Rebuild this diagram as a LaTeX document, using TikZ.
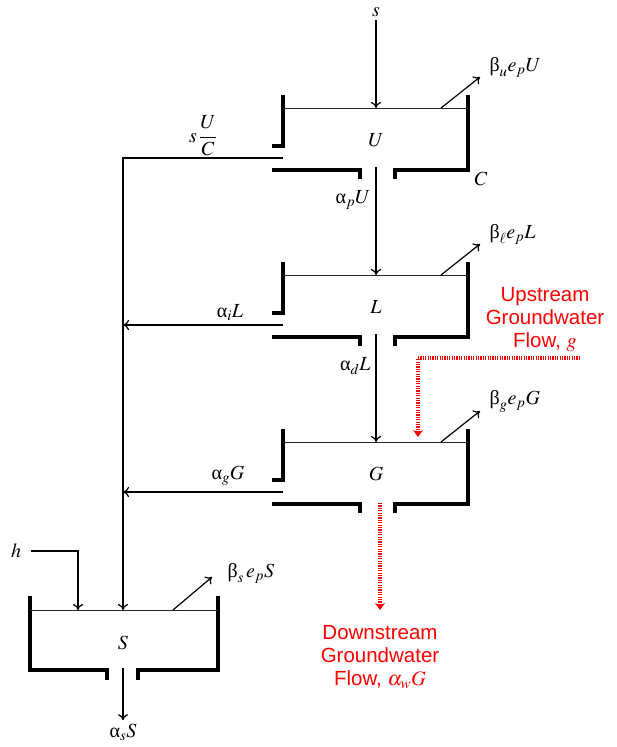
\documentclass[tikz,border=0pt]{standalone}
\usepackage{mathptmx}
\usepackage{fontspec}
\setmainfont{Liberation Serif}
\setsansfont{Liberation Sans}
\usetikzlibrary{arrows.meta}
\definecolor{gwred}{RGB}{255,0,0}
\newcommand{\ualpha}{\mbox{\rmfamily α}}
\newcommand{\ubeta}{\mbox{\rmfamily β}}

\begin{document}
\begin{tikzpicture}[
        x=1pt, y=-1pt,
        font=\fontsize{20}{23}\selectfont,
        wall/.style={line width=3.5pt},
        level/.style={line width=1pt, black!85},
        flow/.style={-{To[length=6pt, width=10pt]}, line width=1.2pt},
        gw/.style={gwred, line width=4pt, dash pattern=on 1.2pt off 1.2pt, -{Stealth[length=7pt, width=10pt]}},
        gwtext/.style={gwred, font=\sffamily\fontsize{20.5}{23}\selectfont, align=center}
    ]
        \useasboundingbox (0,0) rectangle (616,747);

        % three stacked tanks
        \foreach \n/\b/\dy in {U/u/0, L/\ell/167, G/g/334}{
            \begin{scope}[shift={(0,\dy)}]
                \draw[wall] (283,95) -- (283,146) -- (272,146);
                \draw[wall] (272,170) -- (360,170) -- (360,179);
                \draw[wall] (395,179) -- (395,170) -- (468,170) -- (468,95);
                \draw[level] (283,108) -- (468,108);
                \node (\n) at (376,140) {$\n$};
                \coordinate (\n-in)   at (376,108);
                \coordinate (\n-out)  at (376,167);
                \coordinate (\n-side) at (283,158);
                \coordinate (\n-ev)   at (441,108);
                \coordinate (\n-tip)  at (480,77);
                \node[anchor=west] (\n-evl) at (486,67) {$\ubeta_{\b}e_p\n$};
                \draw[flow] (\n-ev) -- (\n-tip);
            \end{scope}
        }

        % soil tank
        \draw[wall] (30,596) -- (30,670) -- (107,670) -- (107,680);
        \draw[wall] (138,680) -- (138,670) -- (218,670) -- (218,596);
        \draw[level] (30,610) -- (218,610);
        \node (S) at (123,643) {$S$};
        \coordinate (S-in)  at (123,610);
        \coordinate (S-h)   at (78,610);
        \coordinate (S-out) at (123,668);
        \coordinate (S-ev)  at (173,610);
        \coordinate (S-tip) at (212,577);
        \node[anchor=west] (S-evl) at (224,573) {$\ubeta_s\,e_pS$};
        \draw[flow] (S-ev) -- (S-tip);

        \node (s)  at (376,12)  {$s$};
        \node (h)  at (16,551)  {$h$};
        \node (aS) at (123,732) {$\ualpha_sS$};
        \node (C)  at (481,179) {$C$};

        \draw[flow] (s) -- (U-in);
        \draw[flow] (U-out) -- (L-in);
        \draw[flow] (L-out) -- (G-in);
        \draw[flow] (U-side) -| (S-in);
        \draw[flow] (L-side) -- (L-side -| S-in);
        \draw[flow] (G-side) -- (G-side -| S-in);
        \draw[flow] ([xshift=6pt]h.east) -| (S-h);
        \draw[flow] (S-out) -- (aS);

        \node (sUC) at (203,136) {$s\,\displaystyle\frac{U}{C}$};
        \node (aiL) at (230,313) {$\ualpha_iL$};
        \node (agG) at (228,476) {$\ualpha_gG$};
        \node[anchor=east] (apU) at (374,200) {$\ualpha_pU$};
        \node[anchor=east] (adL) at (374,366) {$\ualpha_dL$};

        % groundwater exchange
        \coordinate (gw-in)  at (580,358);
        \coordinate (G-gw)   at (418,437);
        \coordinate (G-bot)  at (380,503);
        \coordinate (gw-out) at (380,610);
        \draw[gw] (gw-in) -| (G-gw);
        \draw[gw] (G-bot) -- (gw-out);
        \node[gwtext] (upgw) at (545,320) {Upstream\\Groundwater\\Flow, $g$};
        \node[gwtext] (dngw) at (380,657) {Downstream\\Groundwater\\Flow, $\alpha_wG$};
    \end{tikzpicture}
\end{document}
